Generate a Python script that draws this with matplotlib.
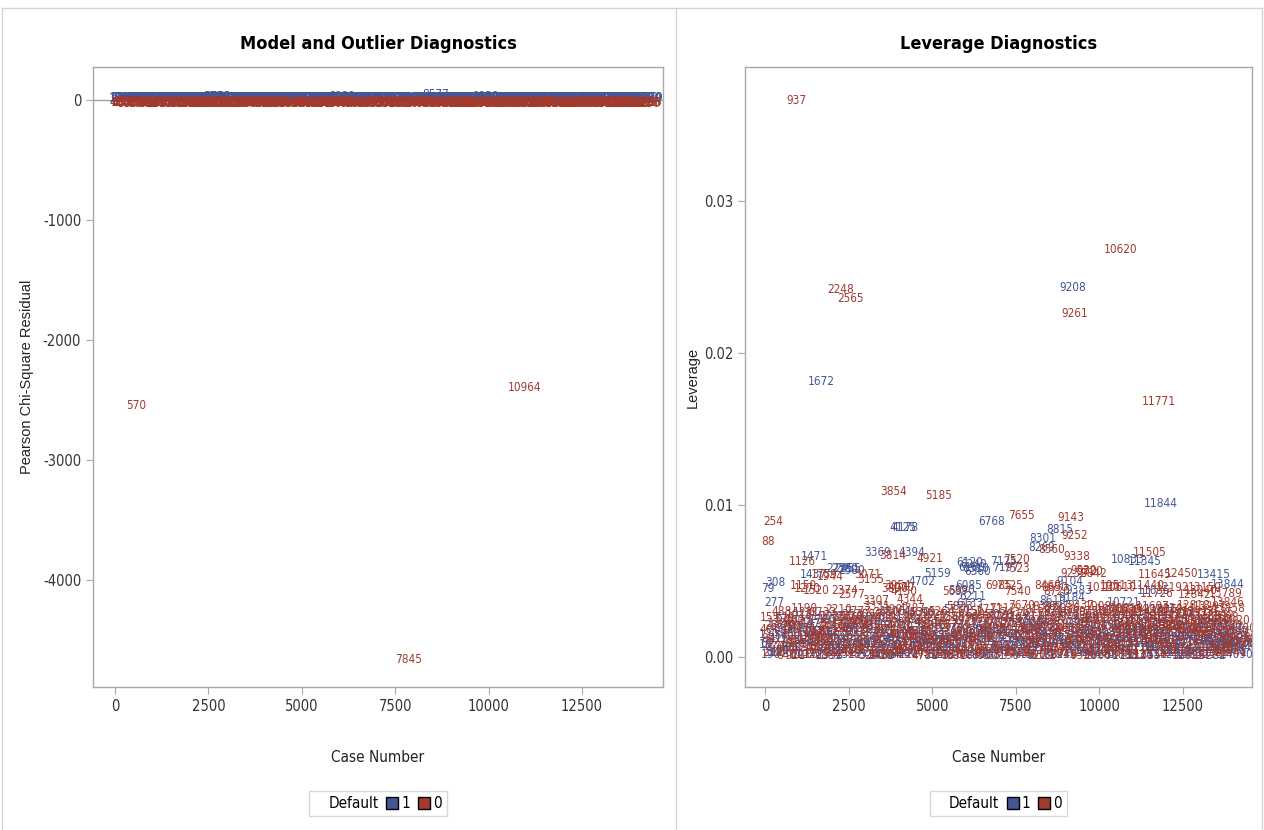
import matplotlib
matplotlib.use("Agg")
import matplotlib.pyplot as plt
from matplotlib import font_manager
from matplotlib.lines import Line2D

plt.rcParams["axes.unicode_minus"] = False

# SAS draws with a narrow Arial; look for some condensed sans we have
names = set(f.name for f in font_manager.fontManager.ttflist)
NARROW, STRETCH = "Liberation Sans", "normal"
if "Liberation Sans Narrow" in names:
    NARROW, STRETCH = "Liberation Sans Narrow", "normal"
else:
    for f in font_manager.fontManager.ttflist:
        if f.stretch == "condensed" and f.name in ("DejaVu Sans", "Noto Sans", "Open Sans", "Roboto"):
            NARROW, STRETCH = f.name, "condensed"
            break
WIDE = "Liberation Sans" if "Liberation Sans" in names else "DejaVu Sans"
NF = dict(family=[NARROW, "DejaVu Sans"], fontstretch=STRETCH)

BLUE = "#445694"
RED = "#A23A2E"

# ---- Default = 0 (red) -----------------------------------------------------
red_case = [
    40, 155, 212, 330, 415, 488, 570, 640, 705, 790,
    862, 955, 1018, 1102, 1190, 1245, 1333, 1410, 1498, 1566,
    1650, 1733, 1812, 1889, 1975, 2050, 2133, 2210, 2297, 2366,
    2451, 2530, 2618, 2690, 2777, 2851, 2940, 3012, 3098, 3176,
    3250, 3331, 3420, 3495, 3572, 3650, 3741, 3815, 3902, 3980,
    4055, 4140, 4222, 4301, 4387, 4460, 4545, 4618, 4698, 4781,
    4866, 4940, 5025, 5103, 5190, 5264, 5347, 5421, 5510, 5588,
    5670, 5745, 5833, 5909, 5990, 6070, 6151, 6230, 6318, 6395,
    6472, 6550, 6638, 6712, 6795, 6870, 6958, 7033, 7112, 7190,
    7276, 7350, 7431, 7512, 7594, 7670, 7756, 7845, 7911, 7990,
    8072, 8150, 8233, 8312, 8395, 8470, 8552, 8631, 8715, 8790,
    8877, 8955, 9036, 9115, 9198, 9275, 9360, 9437, 9520, 9598,
    9680, 9755, 9841, 9918, 10004, 10081, 10165, 10240, 10327, 10405,
    10488, 10566, 10649, 10725, 10810, 10887, 10964, 11048, 11125, 11210,
    11286, 11370, 11449, 11530, 11607, 11690, 11767, 11850, 11931, 12012,
    12090, 12174, 12250, 12335, 12411, 12496, 12573, 12655, 12732, 12818,
    12895, 12977, 13054, 13138, 13215, 13297, 13376, 13460, 13535, 13620,
    13698, 13780, 13858, 13941, 14020, 14105, 14190,
    80, 270, 455, 600, 760, 910, 1060, 1215, 1370, 1530,
    1690, 1850, 2010, 2170, 2330, 2490, 2655, 2810, 2975, 3135,
    3290, 3460, 3610, 3780, 3940, 4100, 4260, 4420, 4580, 4740,
    4900, 5065, 5225, 5385, 5545, 5710, 5870, 6030, 6190, 6355,
    6515, 6675, 6835, 6995, 7155, 7315, 7475, 7635, 7795, 7955,
    8115, 8275, 8435, 8595, 8755, 8915, 9075, 9235, 9395, 9555,
    9715, 9875, 10035, 10195, 10355, 10515, 10675, 10835, 10995, 11155,
    11315, 11475, 11638, 11795, 11955, 12115, 12275, 12435, 12595, 12755,
    12915, 13075, 13235, 13395, 13555, 13715, 13875, 14035, 14150, 14215,
    937, 10620, 2248, 2565, 9261, 11771, 3854, 5185, 7655, 9143,
    254, 9252, 88, 8560, 3814, 9338, 4921, 7520, 1126, 11505,
    7523, 9530, 9720, 9842, 9232, 11645, 12450, 1759, 1944, 3071,
    3155, 3954, 4070, 3890, 4150, 5697, 6985, 7325, 7540, 8460,
    8650, 8720, 10130, 10513, 10610, 11440, 11726, 12192, 12842, 13040,
    13150, 13789, 13846, 1150, 1270, 1520, 2374, 2577, 3307, 4344,
]
red_lev = [
    .0018, .0026, .0003, .0022, .0012, .0030, .0025, .0001, .0007, .0020,
    .0024, .0011, .0028, .0002, .0032, .0006, .0019, .0027, .0013, .0004,
    .0010, .0029, .0017, .0001, .0025, .0021, .0008, .0031, .0003, .0026,
    .0019, .0027, .0005, .0022, .0030, .0002, .0024, .0009, .0028, .0016,
    .0021, .0033, .0001, .0026, .0007, .0029, .0018, .0004, .0031, .0023,
    .0015, .0027, .0002, .0006, .0032, .0012, .0025, .0017, .0029, .0001,
    .0023, .0003, .0028, .0019, .0008, .0030, .0011, .0024, .0002, .0027,
    .0001, .0021, .0033, .0013, .0026, .0004, .0030, .0006, .0022, .0028,
    .0015, .0025, .0002, .0031, .0019, .0027, .0005, .0023, .0032, .0001,
    .0026, .0017, .0029, .0003, .0022, .0034, .0014, .0018, .0028, .0002,
    .0009, .0031, .0024, .0001, .0033, .0012, .0027, .0021, .0030, .0005,
    .0026, .0018, .0032, .0003, .0029, .0022, .0010, .0034, .0001, .0027,
    .0015, .0030, .0023, .0002, .0028, .0033, .0006, .0025, .0011, .0031,
    .0020, .0029, .0004, .0026, .0032, .0001, .0031, .0022, .0018, .0028,
    .0012, .0025, .0030, .0002, .0033, .0021, .0009, .0027, .0023, .0031,
    .0018, .0026, .0003, .0029, .0032, .0020, .0024, .0001, .0028, .0034,
    .0016, .0030, .0022, .0027, .0002, .0033, .0019, .0025, .0029, .0005,
    .0026, .0021, .0032, .0003, .0024, .0011, .0019,
    .0012, .0007, .0019, .0004, .0015, .0009, .0021, .0002, .0013, .0017,
    .0006, .0011, .0020, .0003, .0016, .0008, .0014, .0022, .0005, .0010,
    .0018, .0002, .0012, .0007, .0020, .0015, .0004, .0009, .0017, .0013,
    .0006, .0021, .0011, .0003, .0014, .0019, .0008, .0016, .0002, .0012,
    .0010, .0005, .0018, .0013, .0007, .0022, .0003, .0015, .0009, .0017,
    .0004, .0011, .0020, .0006, .0014, .0002, .0019, .0008, .0012, .0016,
    .0021, .0005, .0010, .0017, .0003, .0013, .0007, .0020, .0015, .0009,
    .0002, .0018, .0012, .0006, .0016, .0011, .0004, .0021, .0008, .0014,
    .0019, .0007, .0013, .0003, .0017, .0010, .0005, .0015, .0009, .0012,
    .0366, .0268, .0242, .0236, .0226, .0168, .0109, .0106, .0093, .0092,
    .0089, .0080, .0076, .0071, .0067, .0066, .0065, .0064, .0063, .0069,
    .0058, .0057, .0056, .0055, .0055, .0054, .0055, .0054, .0053, .0054,
    .0051, .0047, .0046, .0045, .0043, .0043, .0047, .0047, .0043, .0047,
    .0046, .0043, .0046, .0047, .0046, .0047, .0042, .0046, .0041, .0044,
    .0046, .0042, .0036, .0047, .0045, .0044, .0044, .0041, .0037, .0038,
]
red_res = [
    -18, -24, -16, -27, -21, -19, -2542, -25, -17, -22,
    -26, -20, -15, -23, -28, -18, -21, -16, -24, -19,
    -22, -17, -27, -20, -25, -16, -23, -19, -28, -21,
    -18, -24, -20, -26, -17, -22, -15, -27, -21, -19,
    -25, -16, -23, -18, -28, -20, -22, -17, -24, -26,
    -19, -21, -27, -16, -23, -25, -18, -20, -28, -22,
    -17, -24, -19, -26, -21, -15, -23, -27, -18, -20,
    -22, -18, -25, -20, -16, -28, -21, -24, -19, -23,
    -26, -17, -22, -19, -27, -20, -24, -16, -21, -25,
    -18, -23, -20, -28, -15, -22, -26, -4660, -19, -24,
    -21, -16, -25, -18, -27, -23, -19, -22, -17, -26,
    -20, -24, -18, -28, -21, -15, -23, -27, -19, -22,
    -25, -17, -22, -20, -26, -18, -24, -16, -28, -21,
    -19, -27, -23, -17, -25, -21, -2400, -18, -24, -20,
    -22, -16, -26, -19, -28, -23, -20, -25, -17, -21,
    -24, -18, -21, -27, -15, -22, -26, -19, -23, -20,
    -17, -25, -20, -23, -28, -16, -22, -24, -18, -26,
    -21, -19, -27, -15, -23, -25, -20,
    -24, -19, -27, -16, -22, -29, -18, -25, -21, -30,
    -17, -23, -28, -20, -26, -15, -22, -27, -19, -24,
    -29, -18, -21, -25, -16, -28, -23, -20, -26, -17,
    -22, -30, -19, -24, -27, -18, -21, -25, -16, -28,
    -20, -23, -29, -17, -26, -22, -19, -27, -24, -18,
    -25, -21, -16, -28, -23, -20, -30, -17, -26, -22,
    -19, -27, -24, -18, -29, -21, -25, -16, -23, -28,
    -20, -26, -17, -22, -30, -19, -24, -27, -18, -21,
    -25, -16, -28, -23, -20, -26, -22, -19, -29, -24,
    -20, -23, -18, -26, -21, -17, -24, -19, -22, -25,
    -16, -27, -20, -23, -18, -25, -21, -17, -24, -22,
    -19, -26, -20, -23, -17, -25, -21, -18, -24, -22,
    -27, -16, -23, -20, -25, -18, -22, -26, -19, -21,
    -24, -17, -23, -20, -26, -18, -22, -25, -19, -21,
    -23, -17, -26, -20, -24, -18, -22, -25, -19, -21,
]

# ---- Default = 1 (blue) ----------------------------------------------------
blue_case = [
    18, 120, 190, 262, 377, 450, 533, 611, 688, 760,
    845, 921, 1003, 1080, 1166, 1231, 1315, 1390, 1476, 1555,
    1631, 1720, 1798, 1870, 1958, 2035, 2118, 2190, 2271, 2349,
    2433, 2512, 2601, 2676, 2760, 2838, 2921, 3001, 3080, 3160,
    3238, 3317, 3402, 3480, 3560, 3633, 3720, 3800, 3884, 3963,
    4040, 4117, 4205, 4288, 4370, 4448, 4530, 4606, 4688, 4770,
    4851, 4928, 5011, 5090, 5172, 5250, 5333, 5409, 5496, 5577,
    5656, 5730, 5818, 5897, 5975, 6055, 6133, 6211, 6300, 6380,
    6458, 6537, 6620, 6700, 6781, 6855, 6941, 7020, 7098, 7177,
    7260, 7338, 7417, 7497, 7580, 7656, 7740, 7822, 7900, 7977,
    8058, 8137, 8219, 8297, 8380, 8458, 8538, 8577, 8697, 8777,
    8861, 8940, 9021, 9100, 9184, 9262, 9345, 9422, 9505, 9583,
    9665, 9740, 9826, 9905, 9990, 10068, 10150, 10227, 10311, 10390,
    10474, 10552, 10634, 10711, 10796, 10873, 10950, 11032, 11110, 11195,
    11271, 11355, 11433, 11515, 11592, 11675, 11752, 11836, 11915, 11998,
    12076, 12160, 12237, 12320, 12398, 12481, 12560, 12640, 12718, 12803,
    12880, 12962, 13046, 13123, 13200, 13282, 13361, 13445, 13522, 13605,
    13683, 13765, 13843, 13925, 14005, 14090, 14170, 14240,
    60, 300, 560, 800, 1040, 1280, 1525, 1760, 2000, 2240,
    2480, 2720, 2960, 3200, 3440, 3680, 3920, 4160, 4400, 4640,
    4880, 5120, 5360, 5600, 5840, 6080, 6320, 6560, 6800, 7040,
    7280, 7528, 7760, 8000, 8240, 8480, 8724, 8960, 9200, 9440,
    9684, 9920, 10160, 10400, 10640, 10880, 11120, 11360, 11600, 11840,
    12080, 12326, 12566, 12800, 13044, 13280, 13520, 13760, 14000, 14200,
    9208, 1672, 11844, 6768, 4125, 4178, 8815, 8301, 8269, 3369,
    4394, 1471, 10833, 11345, 7125, 7197, 2225, 2380, 2455, 2580,
    6120, 6180, 6240, 6310, 6360, 5159, 1437, 13415, 4702, 308,
    9104, 11635, 13844, 79, 9383, 6085, 5890, 277, 10721, 8610,
]
blue_lev = [
    .0008, .0015, .0002, .0021, .0011, .0004, .0018, .0026, .0006, .0013,
    .0020, .0001, .0024, .0009, .0016, .0029, .0003, .0012, .0022, .0007,
    .0017, .0025, .0005, .0014, .0001, .0027, .0010, .0019, .0004, .0023,
    .0011, .0002, .0016, .0028, .0008, .0021, .0003, .0013, .0024, .0006,
    .0018, .0009, .0026, .0001, .0015, .0022, .0005, .0030, .0011, .0002,
    .0020, .0007, .0014, .0025, .0003, .0017, .0029, .0009, .0012, .0001,
    .0023, .0006, .0016, .0010, .0027, .0002, .0019, .0013, .0004, .0021,
    .0008, .0031, .0001, .0015, .0024, .0011, .0035, .0040, .0003, .0018,
    .0012, .0026, .0005, .0020, .0009, .0001, .0016, .0028, .0007, .0022,
    .0014, .0003, .0019, .0025, .0010, .0002, .0017, .0008, .0023, .0005,
    .0013, .0027, .0001, .0021, .0009, .0016, .0024, .0012, .0033, .0006,
    .0019, .0002, .0028, .0011, .0039, .0007, .0022, .0015, .0004, .0025,
    .0010, .0018, .0003, .0026, .0013, .0001, .0021, .0008, .0030, .0016,
    .0005, .0023, .0012, .0002, .0019, .0027, .0009, .0015, .0004, .0024,
    .0017, .0001, .0029, .0011, .0022, .0006, .0014, .0031, .0003, .0020,
    .0008, .0025, .0013, .0002, .0028, .0016, .0005, .0021, .0010, .0018,
    .0003, .0014, .0024, .0007, .0019, .0001, .0027, .0011, .0022, .0006,
    .0015, .0009, .0020, .0004, .0013, .0002, .0010, .0006,
    .0009, .0003, .0014, .0006, .0018, .0011, .0002, .0016, .0007, .0012,
    .0004, .0019, .0010, .0001, .0015, .0008, .0013, .0003, .0017, .0006,
    .0011, .0002, .0014, .0009, .0005, .0018, .0012, .0001, .0016, .0007,
    .0013, .0004, .0010, .0019, .0006, .0015, .0002, .0011, .0008, .0017,
    .0003, .0014, .0009, .0012, .0005, .0018, .0001, .0010, .0016, .0007,
    .0013, .0004, .0011, .0002, .0015, .0008, .0012, .0006, .0017, .0009,
    .0243, .0181, .0101, .0089, .0085, .0085, .0084, .0078, .0072, .0069,
    .0069, .0066, .0064, .0063, .0063, .0059, .0058, .0058, .0058, .0057,
    .0062, .0059, .0061, .0058, .0056, .0055, .0054, .0054, .0050, .0049,
    .0050, .0044, .0048, .0045, .0044, .0047, .0044, .0036, .0036, .0037,
]
blue_res = [
    14, 19, 12, 22, 16, 20, 13, 18, 24, 15,
    21, 17, 12, 23, 19, 14, 20, 16, 22, 13,
    18, 24, 15, 21, 12, 19, 17, 23, 14, 20,
    16, 22, 13, 18, 25, 15, 21, 12, 19, 17,
    23, 14, 20, 16, 22, 13, 18, 24, 15, 21,
    12, 19, 17, 23, 14, 20, 16, 22, 13, 18,
    24, 15, 21, 12, 19, 17, 23, 14, 20, 16,
    22, 13, 18, 24, 15, 21, 12, 19, 17, 23,
    14, 20, 16, 22, 13, 18, 24, 15, 21, 12,
    19, 17, 23, 14, 20, 16, 22, 13, 18, 24,
    15, 21, 12, 19, 17, 23, 14, 48, 20, 16,
    22, 13, 18, 24, 15, 21, 12, 19, 17, 23,
    14, 20, 16, 22, 13, 18, 24, 15, 21, 12,
    19, 17, 23, 14, 20, 16, 22, 13, 18, 24,
    15, 21, 12, 19, 17, 23, 14, 20, 16, 22,
    13, 18, 24, 15, 21, 12, 19, 17, 23, 14,
    20, 16, 22, 13, 18, 24, 15, 21, 12, 19,
    17, 23, 14, 20, 16, 22, 13, 18,
    20, 15, 23, 17, 21, 13, 24, 18, 14, 22,
    16, 25, 19, 12, 21, 17, 23, 14, 20, 18,
    24, 13, 19, 22, 16, 25, 15, 21, 18, 12,
    23, 17, 20, 14, 24, 19, 13, 22, 16, 21,
    18, 25, 15, 20, 12, 23, 17, 19, 14, 22,
    16, 24, 18, 13, 21, 20, 15, 23, 17, 19,
    18, 22, 15, 20, 17, 23, 14, 19, 21, 16,
    20, 15, 22, 18, 13, 21, 17, 23, 14, 19,
    16, 22, 18, 13, 20, 15, 21, 17, 23, 19,
    14, 20, 16, 22, 18, 15, 21, 17, 23, 19,
]

legend_title = "Default"
group_labels = ["1", "0"]

fig = plt.figure(figsize=(12.64, 8.30), dpi=100)

# panel frames like the SAS output window
for xs, ys in [([0.0016, 0.9984], [0.990, 0.990]), ([0.5348, 0.5348], [0.0, 0.990]),
               ([0.0016, 0.0016], [0.0, 0.990]), ([0.9984, 0.9984], [0.0, 0.990])]:
    fig.add_artist(Line2D(xs, ys, transform=fig.transFigure, color="#d4d4d4", lw=1))

ax1 = fig.add_axes([93 / 1264, 143 / 830, 570 / 1264, 620 / 830])
ax2 = fig.add_axes([745 / 1264, 143 / 830, 507 / 1264, 620 / 830])


def style(ax):
    for s in ax.spines.values():
        s.set_color("#a8a8a8")
        s.set_linewidth(1)
    ax.tick_params(direction="out", length=5, color="#a8a8a8", labelcolor="#333333",
                   labelsize=10.5)
    for t in ax.get_xticklabels() + ax.get_yticklabels():
        t.set_family(NF["family"])
        t.set_stretch(STRETCH)


def put_labels(ax, xs, ys, color):
    for x, y in zip(xs, ys):
        ax.text(x, y, str(x), ha="center", va="center", color=color, fontsize=8.5,
                clip_on=True, **NF)


# ---- left: residuals ----
ax1.axhline(0, color="#a0a0a0", lw=1, zorder=0)
put_labels(ax1, blue_case, blue_res, BLUE)
put_labels(ax1, red_case, red_res, RED)
ax1.set_xlim(-589, 14668)
ax1.set_ylim(-4892, 275)
ax1.set_xticks([0, 2500, 5000, 7500, 10000, 12500])
ax1.set_yticks([0, -1000, -2000, -3000, -4000])
style(ax1)
ax1.set_title("Model and Outlier Diagnostics", fontsize=13, fontweight="bold", pad=13, **NF)
ax1.set_xlabel("Case Number", fontsize=11, color="#222222", labelpad=26, **NF)
ax1.set_ylabel("Pearson Chi-Square Residual", fontsize=10.5, family=[WIDE, "DejaVu Sans"],
               color="#222222", labelpad=6)

# ---- right: leverage ----
put_labels(ax2, blue_case, blue_lev, BLUE)
put_labels(ax2, red_case, red_lev, RED)
ax2.set_xlim(-598, 14563)
ax2.set_ylim(-0.00197, 0.03882)
ax2.set_xticks([0, 2500, 5000, 7500, 10000, 12500])
ax2.set_yticks([0.00, 0.01, 0.02, 0.03])
ax2.set_yticklabels(["0.00", "0.01", "0.02", "0.03"])
style(ax2)
ax2.set_title("Leverage Diagnostics", fontsize=13, fontweight="bold", pad=13, **NF)
ax2.set_xlabel("Case Number", fontsize=11, color="#222222", labelpad=26, **NF)
ax2.set_ylabel("Leverage", fontsize=10.5, family=[WIDE, "DejaVu Sans"],
               color="#222222", labelpad=3)

# legends: "Default [1] [0]" in one row
for ax in (ax1, ax2):
    handles = [Line2D([], [], ls="", marker="s", markersize=0, alpha=0),
               Line2D([], [], ls="", marker="s", markersize=8, markerfacecolor=BLUE,
                      markeredgecolor="black", markeredgewidth=1),
               Line2D([], [], ls="", marker="s", markersize=8, markerfacecolor=RED,
                      markeredgecolor="black", markeredgewidth=1)]
    leg = ax.legend(handles, [legend_title] + group_labels, ncol=3, loc="upper center",
                    bbox_to_anchor=(0.5, -0.155), frameon=True, fancybox=False,
                    edgecolor="#cfcfcf", handlelength=0.6, handletextpad=0.3,
                    columnspacing=0.6, borderpad=0.35,
                    prop={"family": NF["family"], "stretch": STRETCH, "size": 11})
    leg.get_frame().set_linewidth(1)

fig.savefig("out.png", dpi=100, facecolor="white")
